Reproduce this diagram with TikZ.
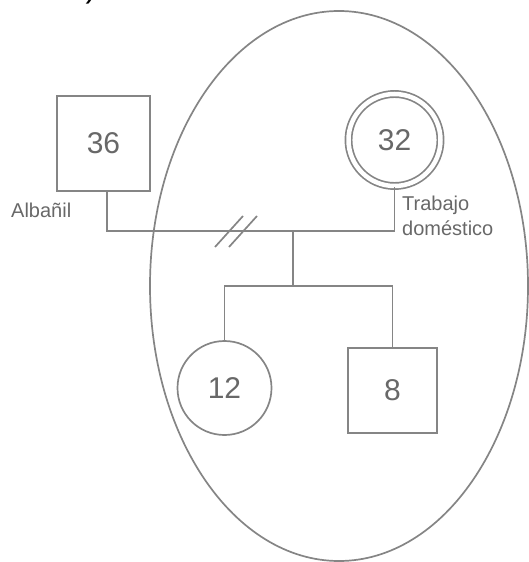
\documentclass[tikz,border=0pt]{standalone}
\usepackage{fontspec}
\setmainfont{Liberation Sans}
\usepackage{xcolor}
\usetikzlibrary{positioning,shapes.geometric}
\definecolor{lineagray}{HTML}{858585}
\definecolor{textogray}{HTML}{686868}
\tikzset{every node/.style={text=textogray},
    tie/.style={draw=lineagray,line width=1.7pt},
    varon/.style={tie,rectangle,font=\fontsize{30}{30}\selectfont},
    mujer/.style={tie,circle,font=\fontsize{30}{30}\selectfont},
    oficio/.style={font=\fontsize{20}{25}\selectfont,align=left,inner sep=0pt}}

\begin{document}
\begin{tikzpicture}[x=1pt,y=-1pt]
\useasboundingbox (0,0) rectangle (528,562);
\node[text=black,anchor=base,font=\fontsize{32}{32}\selectfont] (cierre) at (91,-2) {)};
% hogar
\node[tie,ellipse,minimum width=378pt,minimum height=550pt] (hogar) at (339,286) {};
% padres
\node[varon,minimum width=93pt,minimum height=95pt] (padre) at (103.5,143.5) {36};
\node[mujer,double=white,double distance=4.5pt,minimum size=92pt] (madre) at (394.5,140) {32};
\node[oficio,anchor=west] (albanil) at (11,210) {Albañil};
\node[oficio,anchor=north west] (domestico) at (402,196) {Trabajo\\doméstico};
% hijos
\node[mujer,minimum size=94pt] (hija) at (224.5,388) {12};
\node[varon,minimum width=89pt,minimum height=85pt] (hijo) at (392.5,390.5) {8};
\coordinate (union) at (293,231);
\coordinate (hijos) at (293,286);
\coordinate (sep) at (236,231);
\draw[tie] ([xshift=3.5pt]padre.south) |- (union) -| (madre.south);
\draw[tie] (union) -- (hijos);
\draw[tie] (hija.north) |- (hijos) -| (hijo.north);
% separados
\foreach \dx in {-7,7}
    \draw[tie] ([xshift=\dx pt]sep) ++(-14,16) -- ++(28,-31);
\end{tikzpicture}
\end{document}
